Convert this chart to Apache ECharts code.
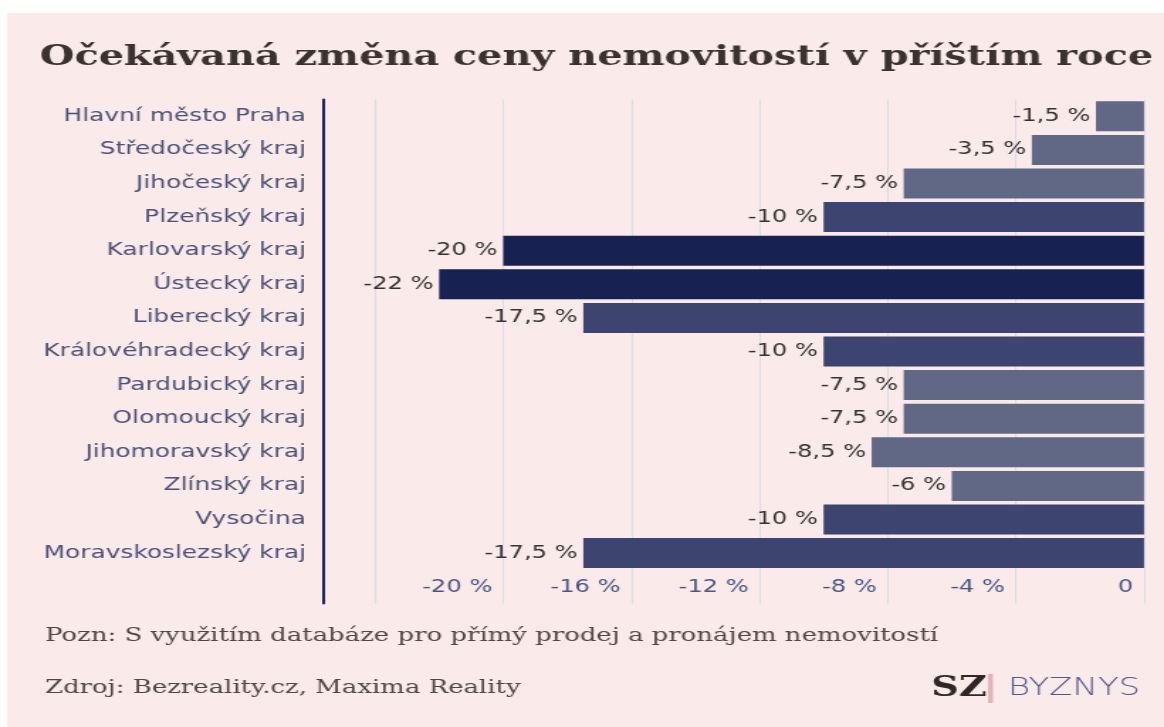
<!DOCTYPE html>
<html>
<head>
<meta charset="utf-8">
<script src="https://cdn.jsdelivr.net/npm/echarts@6/dist/echarts.min.js"></script>
<style>
  html, body { margin: 0; padding: 0; background: #ffffff; overflow: hidden; }
  /* the reference picture is horizontally stretched; reproduce that stretch */
  #chart { width: 820px; height: 727px; transform: scaleX(1.41951); transform-origin: 0 0; }
</style>
</head>
<body>
<div id="chart"></div>
<script>
const categories = ['Hlavní město Praha', 'Středočeský kraj', 'Jihočeský kraj', 'Plzeňský kraj',
  'Karlovarský kraj', 'Ústecký kraj', 'Liberecký kraj', 'Královéhradecký kraj', 'Pardubický kraj',
  'Olomoucký kraj', 'Jihomoravský kraj', 'Zlínský kraj', 'Vysočina', 'Moravskoslezský kraj'];
const values = [-1.5, -3.5, -7.5, -10, -20, -22, -17.5, -10, -7.5, -7.5, -8.5, -6, -10, -17.5];
const xMin = -24, xMax = 0, xStep = 4;
const titleText = 'Očekávaná změna ceny nemovitostí v příštím roce';
const noteText = 'Pozn: S využitím databáze pro přímý prodej a pronájem nemovitostí';
const sourceText = 'Zdroj: Bezreality.cz, Maxima Reality';

const fmtNum = v => String(v).replace('.', ',');
const barColor = v => v <= -20 ? '#172252' : (v <= -10 ? '#3d446f' : '#606886');

const chart = echarts.init(document.getElementById('chart'), null, { renderer: 'canvas' });
chart.setOption({
  backgroundColor: '#ffffff',
  animation: false,
  title: {
    text: titleText,
    left: 28, top: 44, padding: 0,
    textStyle: { fontFamily: 'DejaVu Serif', fontWeight: 'bold', fontSize: 28, color: '#3a3131' }
  },
  graphic: [
    { type: 'rect', z: -10, shape: { x: 5, y: 13, width: 820, height: 720 }, style: { fill: '#fbeaea' } },
    { type: 'text', left: 31.7, top: 627, style: { text: noteText, font: '18.3px "DejaVu Serif"', fill: '#4f4646' } },
    { type: 'text', left: 31.7, top: 679, style: { text: sourceText, font: '18.3px "DejaVu Serif"', fill: '#4f4646' } },
    { type: 'text', left: 656, top: 675, style: { text: 'SZ', font: 'bold 27px "DejaVu Serif"', fill: '#2f2727' } },
    { type: 'rect', shape: { x: 696, y: 674, width: 3.5, height: 29 }, style: { fill: '#e6b3b8' } },
    { type: 'text', left: 710, top: 677, style: { text: 'BYZNYS', font: '200 24px "DejaVu Sans"', fill: '#4d5a8c' } }
  ],
  grid: { left: 264.2, right: 14.1, top: 99.5, height: 504, containLabel: false },
  xAxis: {
    type: 'value', min: xMin, max: xMax, interval: xStep, position: 'bottom',
    axisLine: { show: false }, axisTick: { show: false },
    splitLine: { show: true, lineStyle: { color: '#e0dae4', width: 1 } },
    axisLabel: {
      inside: true, margin: 7, align: 'right', padding: [0, 7.7, 0, 0],
      fontFamily: 'DejaVu Sans', fontSize: 17, color: '#4a5583',
      formatter: v => v === xMin ? '' : (v === 0 ? '0' : fmtNum(v) + ' %')
    }
  },
  yAxis: {
    type: 'category', inverse: true, data: categories.concat(['']),
    offset: 36.7,
    axisLine: { show: true, onZero: false, lineStyle: { color: '#1b2456', width: 2 } },
    axisTick: { show: false },
    splitLine: { show: false },
    axisLabel: { margin: 12, fontFamily: 'DejaVu Sans', fontSize: 17.5, color: '#4b5177' }
  },
  series: [{
    type: 'bar',
    data: values,
    barWidth: 30,
    itemStyle: { color: p => barColor(p.value) },
    label: {
      show: true, position: 'left', distance: 4,
      fontFamily: 'DejaVu Sans', fontSize: 17, color: '#333333',
      formatter: p => fmtNum(p.value) + ' %'
    }
  }]
});
</script>
</body>
</html>
